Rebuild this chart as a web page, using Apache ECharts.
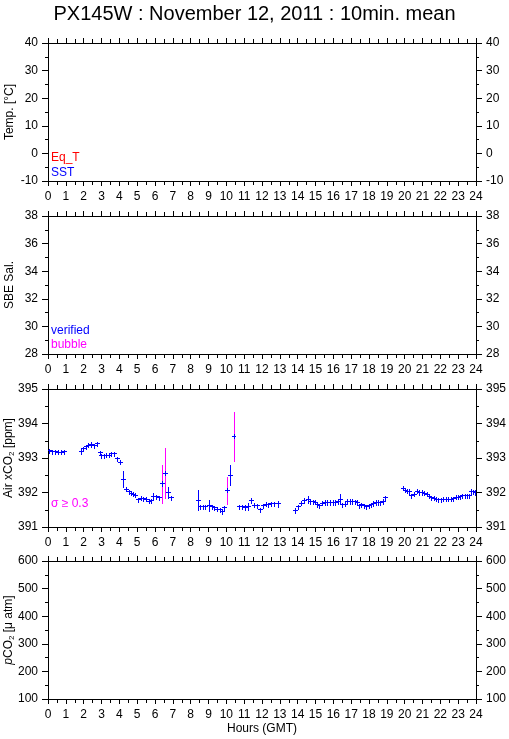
<!DOCTYPE html>
<html>
<head>
<meta charset="utf-8">
<script src="https://cdn.jsdelivr.net/npm/echarts@6/dist/echarts.min.js"></script>
<style>
html,body{margin:0;padding:0;background:#fff;}
#chart{width:509px;height:739px;}
</style>
</head>
<body>
<div id="chart"></div>
<script>
// ---- data ----
const titleText = 'PX145W : November 12, 2011 : 10min. mean';
const hourTicks = [0,1,2,3,4,5,6,7,8,9,10,11,12,13,14,15,16,17,18,19,20,21,22,23,24];
const tempRange = [-10, 40, 10];
const salRange = [28, 38, 2];
const xco2Range = [391, 395, 1];
const pco2Range = [100, 600, 100];

// Air xCO2 10-min means: hour (GMT), value (ppm), std dev (ppm)
const xco2Hours = [
  0.08,0.25,0.42,0.58,0.75,0.92,
  1.87,1.99,2.15,2.28,2.43,2.59,2.76,2.92,3.00,3.15,3.30,3.43,3.58,3.72,3.90,4.08,4.25,4.42,4.55,4.68,4.78,4.93,
  5.08,5.23,5.38,5.53,5.68,5.83,5.94,6.09,6.24,6.41,6.58,6.73,6.90,
  8.44,8.55,8.70,8.85,9.05,9.20,9.36,9.52,9.65,9.76,9.91,10.08,10.25,10.43,
  10.75,10.89,11.07,11.22,11.39,11.56,11.73,11.90,12.07,12.24,12.38,12.55,12.72,12.93,
  13.90,14.07,14.24,14.41,14.58,14.73,14.88,14.99,15.10,15.25,15.40,15.55,15.70,15.85,16.00,16.13,16.28,16.41,
  16.52,16.67,16.80,16.94,17.09,17.22,17.35,17.44,17.59,17.72,17.88,18.00,18.14,18.27,18.40,18.54,18.66,18.79,18.93,
  19.92,20.03,20.14,20.28,20.40,20.54,20.72,20.85,21.00,21.13,21.26,21.40,21.53,21.66,21.79,21.92,22.05,22.20,
  22.33,22.47,22.60,22.73,22.88,23.01,23.14,23.27,23.40,23.53,23.66,23.74,23.87,23.98
];
const xco2Values = [
  393.21,393.18,393.18,393.17,393.17,393.18,
  393.20,393.27,393.33,393.37,393.39,393.35,393.41,393.15,393.06,393.07,393.08,393.08,393.12,393.12,392.98,392.88,392.38,392.09,392.02,391.98,391.95,391.92,
  391.79,391.84,391.82,391.81,391.75,391.76,391.88,391.88,391.85,392.26,392.56,392.00,391.85,
  391.77,391.58,391.59,391.59,391.62,391.58,391.56,391.52,391.50,391.44,391.56,392.07,392.50,393.63,
  391.58,391.58,391.57,391.59,391.77,391.63,391.62,391.50,391.62,391.66,391.65,391.67,391.67,391.67,
  391.48,391.58,391.69,391.77,391.80,391.74,391.73,391.72,391.64,391.62,391.69,391.71,391.71,391.71,391.71,391.71,391.74,391.81,
  391.65,391.66,391.75,391.74,391.74,391.73,391.71,391.62,391.64,391.62,391.58,391.62,391.65,391.68,391.71,391.71,391.70,391.74,391.85,
  392.12,392.07,392.04,392.03,391.90,391.95,392.04,392.00,392.00,391.98,391.95,391.89,391.85,391.83,391.80,391.79,391.79,391.81,
  391.81,391.81,391.81,391.82,391.86,391.86,391.88,391.91,391.91,391.91,391.91,392.03,392.02,392.00
];
const xco2Sigma = [
  0.03,0.03,0.03,0.03,0.03,0.03,
  0.08,0.05,0.04,0.04,0.04,0.04,0.04,0.04,0.04,0.04,0.04,0.04,0.04,0.04,0.04,0.04,0.23,0.04,0.04,0.04,0.04,0.04,
  0.04,0.04,0.04,0.04,0.04,0.04,0.11,0.04,0.04,0.55,0.72,0.15,0.04,
  0.29,0.04,0.04,0.04,0.15,0.04,0.04,0.04,0.04,0.04,0.05,0.39,0.29,0.71,
  0.04,0.04,0.08,0.10,0.04,0.04,0.04,0.04,0.04,0.04,0.04,0.04,0.04,0.08,
  0.04,0.04,0.04,0.04,0.10,0.04,0.04,0.04,0.04,0.04,0.04,0.04,0.04,0.04,0.04,0.04,0.04,0.15,
  0.04,0.04,0.04,0.07,0.04,0.04,0.04,0.04,0.07,0.04,0.04,0.04,0.04,0.04,0.04,0.04,0.04,0.04,0.04,
  0.06,0.04,0.04,0.04,0.07,0.04,0.04,0.04,0.04,0.04,0.04,0.04,0.04,0.04,0.04,0.04,0.04,0.04,
  0.04,0.04,0.04,0.04,0.04,0.04,0.04,0.04,0.04,0.04,0.04,0.04,0.04,0.04,0.04
];

// ---- chart ----
const FONT = '"Liberation Sans", Arial, Helvetica, sans-serif';
const chart = echarts.init(document.getElementById('chart'), null, {renderer: 'canvas'});

const gridTops = [43, 216, 389, 561];
const gridH = 138;
const grids = gridTops.map(t => ({
  left: 48, right: 33, top: t, height: gridH, show: false,
  containLabel: false, outerBoundsMode: 'none'
}));

const ranges = [tempRange, salRange, xco2Range, pco2Range];
const yNames = [
  'Temp. [°C]',
  'SBE Sal.',
  'Air xCO{sub|2} [ppm]',
  '{it|p}CO{sub|2} [μ atm]'
];

const lineStyle = {color: '#000', width: 1};
const xAxes = [];
const yAxes = [];
for (let i = 0; i < 4; i++) {
  const common = {
    gridIndex: i, type: 'value', min: hourTicks[0], max: hourTicks[hourTicks.length - 1], interval: 1,
    axisLine: {show: true, onZero: false, lineStyle},
    axisTick: {show: true, inside: false, length: 5, lineStyle},
    minorTick: {show: true, splitNumber: 2, length: 4, lineStyle},
    splitLine: {show: false}
  };
  xAxes.push(Object.assign({}, common, {
    position: 'bottom',
    axisLabel: {show: true, color: '#000', fontSize: 12, fontFamily: FONT, margin: 10},
    name: i === 3 ? 'Hours (GMT)' : '',
    nameLocation: 'middle', nameGap: 24, nameMoveOverlap: false,
    nameTextStyle: {color: '#000', fontSize: 12, fontFamily: FONT}
  }));
  xAxes.push(Object.assign({}, common, {
    position: 'top',
    axisLabel: {show: false}
  }));
  const r = ranges[i];
  const yc = {
    gridIndex: i, type: 'value', min: r[0], max: r[1], interval: r[2],
    axisLine: {show: true, onZero: false, lineStyle},
    axisTick: {show: true, inside: false, length: 6, lineStyle},
    minorTick: {show: true, splitNumber: 2, length: 3, lineStyle},
    splitLine: {show: false},
    axisLabel: {show: true, color: '#000', fontSize: 12, fontFamily: FONT, margin: 10}
  };
  yAxes.push(Object.assign({}, yc, {
    position: 'left',
    name: yNames[i], nameLocation: 'middle', nameGap: 32, nameRotate: 90,
    nameMoveOverlap: false,
    nameTextStyle: {
      color: '#000', fontSize: 12, fontFamily: FONT,
      rich: {
        sub: {fontSize: 8, fontFamily: FONT, color: '#000', verticalAlign: 'bottom', padding: [6, 0, 0, 0]},
        it: {fontSize: 12, fontFamily: FONT, fontStyle: 'italic', color: '#000'}
      }
    }
  }));
  yAxes.push(Object.assign({}, yc, {position: 'right'}));
}

function renderXco2(params, api) {
  const h = api.value(0), v = api.value(1), s = api.value(2);
  const half = 5 / 60;
  const pL = api.coord([h - half, v]);
  const pR = api.coord([h + half, v]);
  const pT = api.coord([h, v + s]);
  const pB = api.coord([h, v - s]);
  const pt = api.coord([h, v + 0.06]);
  const pb = api.coord([h, v - 0.06]);
  const cx = Math.floor(pT[0]);
  const cy = Math.floor(pL[1]);
  const xl = Math.round(pL[0]), xr = Math.round(pR[0]);
  const barColor = s >= 0.3 ? '#ff00ff' : '#0000ff';
  const yt = Math.round(pT[1]), yb = Math.round(pB[1]);
  const yt2 = Math.round(pt[1]), yb2 = Math.round(pb[1]);
  return {
    type: 'group',
    children: [
      {type: 'rect', shape: {x: cx, y: yt, width: 1, height: Math.max(1, yb - yt + 1)}, style: {fill: barColor, stroke: null}},
      {type: 'rect', shape: {x: cx, y: yt2, width: 1, height: Math.max(1, yb2 - yt2 + 1)}, style: {fill: '#0000ff', stroke: null}},
      {type: 'rect', shape: {x: xl - 1, y: cy, width: xr - xl + 2, height: 1}, style: {fill: '#0000ff', stroke: null}}
    ]
  };
}

const xco2Data = xco2Hours.map((h, k) => [h, xco2Values[k], xco2Sigma[k]]);

const legendTexts = [
  {text: 'Eq_T', x: 51, y: 152, color: '#ff0000'},
  {text: 'SST', x: 51, y: 167, color: '#0000ff'},
  {text: 'verified', x: 51, y: 325, color: '#0000ff'},
  {text: 'bubble', x: 51, y: 339, color: '#ff00ff'},
  {text: 'σ ≥ 0.3', x: 51, y: 498, color: '#ff00ff'}
];

const option = {
  backgroundColor: '#fff',
  animation: false,
  title: {
    text: titleText, left: 'center', top: -1,
    textStyle: {color: '#000', fontSize: 20, fontWeight: 'normal', fontFamily: FONT}
  },
  grid: grids,
  xAxis: xAxes,
  yAxis: yAxes,
  graphic: legendTexts.map(t => ({
    type: 'text', left: t.x, top: t.y, z: 100,
    style: {text: t.text, fill: t.color, fontSize: 12, fontFamily: FONT}
  })),
  series: [
    {
      type: 'custom', name: 'Air xCO2',
      xAxisIndex: 4, yAxisIndex: 4,
      renderItem: renderXco2,
      encode: {x: 0, y: 1},
      data: xco2Data,
      clip: true
    }
  ]
};
chart.setOption(option);
</script>
</body>
</html>
